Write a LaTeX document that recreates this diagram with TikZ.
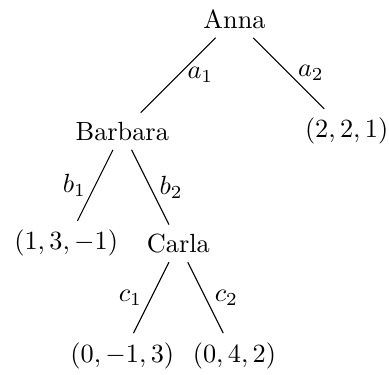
\documentclass[tikz,border=0pt]{standalone}
\usepackage{amsmath}
\usepackage{tikz}
\usetikzlibrary{calc}

\begin{document}
\begin{tikzpicture}
        \tikzset{move/.style={draw}}
        \useasboundingbox (-3.135,-4.759) rectangle (2.066,0.254);
        \node (anna) at (0,0) {Anna};
        \node (barbara) at ($(anna)+(-1.5,-1.5)$) {Barbara};
        \node (pay1) at ($(anna)+(1.5,-1.5)$) {$(2,2,1)$};
        \node (pay2) at ($(barbara)+(-0.75,-1.5)$) {$(1,3,-1)$};
        \node (carla) at ($(barbara)+(0.75,-1.5)$) {Carla};
        \node (pay3) at ($(carla)+(-0.75,-1.5)$) {$(0,-1,3)$};
        \node (pay4) at ($(carla)+(0.75,-1.5)$) {$(0,4,2)$};
        \draw[move] (anna) -- node[right] {$a_1$} (barbara);
        \draw[move] (anna) -- node[right] {$a_2$} (pay1);
        \draw[move] (barbara) -- node[left] {$b_1$} (pay2);
        \draw[move] (barbara) -- node[right] {$b_2$} (carla);
        \draw[move] (carla) -- node[left] {$c_1$} (pay3);
        \draw[move] (carla) -- node[right] {$c_2$} (pay4);
\end{tikzpicture}
\end{document}
